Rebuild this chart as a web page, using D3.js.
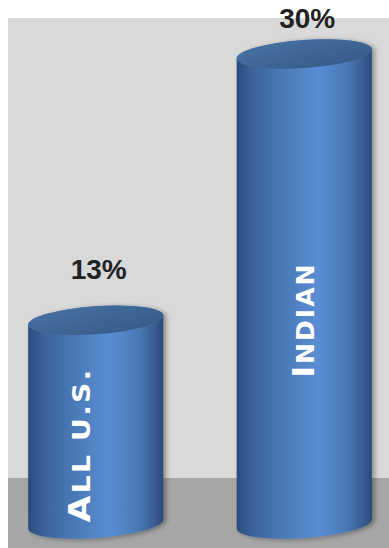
<!DOCTYPE html>
<html>
<head>
<meta charset="utf-8">
<script src="https://cdn.jsdelivr.net/npm/d3@7"></script>
<style>
  html, body { margin: 0; padding: 0; background: #ffffff; }
  svg { display: block; }
</style>
</head>
<body>
<div id="chart"></div>
<script>
// Share of the population, in percent
const categories = ["All U.S.", "Indian"];
const values = [13, 30];
const valueLabels = ["13%", "30%"];

const W = 389, H = 548;
const panel = { x: 8, y: 18, floorY: 478 };

const svg = d3.select("#chart").append("svg")
  .attr("width", W).attr("height", H);

const defs = svg.append("defs");

// Body shading: dark edges, lighter band right of centre
const body = defs.append("linearGradient").attr("id", "bodyGrad")
  .attr("x1", "0%").attr("x2", "100%").attr("y1", "0%").attr("y2", "0%");
[[0, "#2b4c7a"], [0.12, "#3b649b"], [0.35, "#4a7ab8"], [0.6, "#5a8dd4"],
 [0.82, "#4877b3"], [0.95, "#35598a"], [1, "#2a4a77"]]
  .forEach(([o, c]) => body.append("stop").attr("offset", o).attr("stop-color", c));

const cap = defs.append("linearGradient").attr("id", "capGrad")
  .attr("x1", "0%").attr("x2", "100%").attr("y1", "0%").attr("y2", "100%");
[[0, "#4872a6"], [0.5, "#3e6694"], [1, "#365b87"]]
  .forEach(([o, c]) => cap.append("stop").attr("offset", o).attr("stop-color", c));

const soft = defs.append("filter").attr("id", "soft")
  .attr("x", "-10%").attr("y", "-10%").attr("width", "125%").attr("height", "120%");
soft.append("feGaussianBlur").attr("in", "SourceAlpha").attr("stdDeviation", 2.5).attr("result", "b");
soft.append("feOffset").attr("in", "b").attr("dx", 3).attr("dy", 1).attr("result", "o");
soft.append("feComponentTransfer").attr("in", "o").attr("result", "s")
  .append("feFuncA").attr("type", "linear").attr("slope", 0.35);
soft.append("feGaussianBlur").attr("in", "SourceGraphic").attr("stdDeviation", 0.5).attr("result", "g");
const merge = soft.append("feMerge");
merge.append("feMergeNode").attr("in", "s");
merge.append("feMergeNode").attr("in", "g");

// Backdrop wall and floor
svg.append("rect").attr("x", panel.x).attr("y", panel.y)
  .attr("width", W - panel.x).attr("height", panel.floorY - panel.y)
  .attr("fill", "#d9d9d9");
svg.append("rect").attr("x", panel.x).attr("y", panel.floorY)
  .attr("width", W - panel.x).attr("height", H - panel.floorY)
  .attr("fill", "#a6a6a6");

const x = d3.scaleBand().domain(categories).range([28, 372]).paddingInner(0.35);
const y = d3.scaleLinear().domain([0, 30]).range([524, 54]);

const ry = 14, tilt = -4;
const t = tilt * Math.PI / 180;

const data = categories.map((c, i) => ({ c, v: values[i], label: valueLabels[i] }));

const g = svg.append("g").selectAll("g").data(data).join("g")
  .attr("filter", "url(#soft)");

function cylPath(d) {
  const rx = x.bandwidth() / 2, cx = x(d.c) + rx;
  const ox = rx * Math.cos(t), oy = rx * Math.sin(t);
  const yt = y(d.v), yb = y(0);
  return `M${cx - ox},${yt - oy} L${cx - ox},${yb - oy}` +
    ` A${rx},${ry} ${tilt} 0 0 ${cx + ox},${yb + oy}` +
    ` L${cx + ox},${yt + oy}` +
    ` A${rx},${ry} ${tilt} 0 0 ${cx - ox},${yt - oy} Z`;
}

g.append("path").attr("d", cylPath).attr("fill", "url(#bodyGrad)");

g.append("ellipse")
  .attr("cx", 0).attr("cy", 0)
  .attr("rx", x.bandwidth() / 2).attr("ry", ry)
  .attr("transform", d => `translate(${x(d.c) + x.bandwidth() / 2},${y(d.v)}) rotate(${tilt})`)
  .attr("fill", "url(#capGrad)");

// Value labels above each cylinder
svg.append("g").selectAll("text").data(data).join("text")
  .attr("x", d => x(d.c) + x.bandwidth() / 2 + 3)
  .attr("y", d => Math.max(28, y(d.v) - 41))
  .attr("text-anchor", "middle")
  .attr("font-family", "'Liberation Sans', Arial, sans-serif")
  .attr("font-weight", "bold")
  .attr("font-size", 28)
  .attr("fill", "#222222")
  .text(d => d.label);

// Category names written up the cylinders in small caps
const nameLayout = { "All U.S.": { dx: -6, cy: 445, len: 155 }, "Indian": { dx: 10, cy: 320, len: 115 } };
const names = svg.append("g").selectAll("text").data(data).join("text")
  .attr("transform", d => {
    const L = nameLayout[d.c];
    return `translate(${x(d.c) + x.bandwidth() / 2 + L.dx},${L.cy}) rotate(-90)`;
  })
  .attr("text-anchor", "middle")
  .attr("font-family", "'DejaVu Sans', sans-serif")
  .attr("font-weight", "bold")
  .attr("fill", "#ffffff")
  .attr("letter-spacing", 2)
  .attr("textLength", d => nameLayout[d.c].len)
  .attr("lengthAdjust", "spacingAndGlyphs");
names.append("tspan").attr("font-size", 31).text(d => d.c[0].toUpperCase());
names.append("tspan").attr("font-size", 25).text(d => d.c.slice(1).toUpperCase());
</script>
</body>
</html>
